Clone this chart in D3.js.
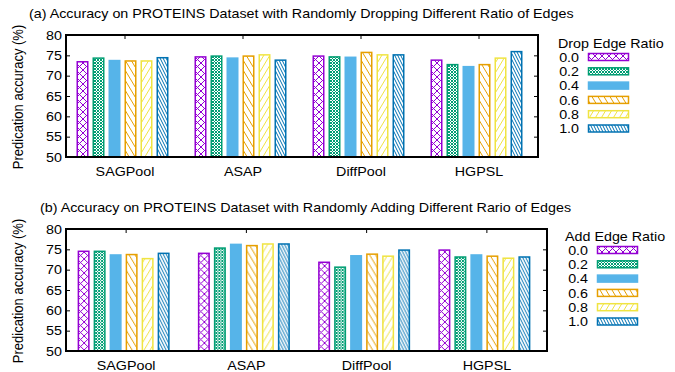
<!DOCTYPE html>
<html>
<head>
<meta charset="utf-8">
<script src="https://cdn.jsdelivr.net/npm/d3@7"></script>
<style>
  body { margin: 0; background: #fff; }
  svg text { font-family: "Liberation Sans", Arial, sans-serif; fill: #000; }
</style>
</head>
<body>
<svg id="chart" width="675" height="372"></svg>
<script>
// data
var methods = ["SAGPool", "ASAP", "DiffPool", "HGPSL"];
var ratios = ["0.0", "0.2", "0.4", "0.6", "0.8", "1.0"];
var yTicks = [50, 55, 60, 65, 70, 75, 80];

// (a) drop edges, one array per method, in ratio order
var dropSAGPool = [73.6, 74.5, 73.9, 73.8, 73.8, 74.6];
var dropASAP = [74.8, 75.0, 74.5, 75.0, 75.3, 74.0];
var dropDiffPool = [75.0, 74.8, 74.7, 75.9, 75.3, 75.3];
var dropHGPSL = [74.0, 72.9, 72.4, 72.9, 74.5, 76.1];

// (b) add edges
var addSAGPool = [74.7, 74.7, 73.8, 73.9, 72.9, 74.2];
var addASAP = [74.2, 75.5, 76.4, 76.1, 76.5, 76.5];
var addDiffPool = [72.0, 70.8, 73.6, 74.0, 73.5, 75.0];
var addHGPSL = [75.0, 73.3, 73.8, 73.5, 73.0, 73.3];

var colors = ["#9400d3", "#009e73", "#56b4e9", "#e69f00", "#f0e442", "#0072b2"];

var svg = d3.select("#chart");
var sx = 1.1;  // picture is stretched sideways a bit
var fs = 13;

// fill patterns, one per ratio
var defs = svg.append("defs");
function pattern(id, color, w, h, path, bg) {
    var p = defs.append("pattern")
        .attr("id", id)
        .attr("patternUnits", "userSpaceOnUse")
        .attr("width", w).attr("height", h);
    p.append("rect").attr("width", w).attr("height", h).attr("fill", bg || "#fff");
    if (path) {
        p.append("path").attr("d", path)
            .attr("stroke", color).attr("stroke-width", 1).attr("fill", "none");
    }
}
pattern("p0", colors[0], 7, 7, "M0,0L7,7M0,7L7,0");
pattern("p1", colors[1], 3, 3, "M0,0L3,3M0,3L3,0");
pattern("p2", colors[2], 4, 4, null, colors[2]);
pattern("p3", colors[3], 6, 10, "M-3,-5L9,15M3,-5L15,15M-9,-5L3,15");
pattern("p4", colors[4], 6, 10, "M9,-5L-3,15M3,-5L-9,15M15,-5L3,15");
pattern("p5", colors[5], 3, 6, "M-1.5,-3L4.5,9M1.5,-3L7.5,9M-4.5,-3L1.5,9");

function label(g, x, y, str, anchor) {
    return g.append("text")
        .attr("transform", "translate(" + x + "," + y + ") scale(" + sx + ",1)")
        .attr("text-anchor", anchor || "start")
        .attr("font-size", fs)
        .text(str);
}

function drawPanel(opt) {
    var g = svg.append("g");
    var x = d3.scaleBand().domain(methods).range([opt.left, opt.right]).padding(0);
    var y = d3.scaleLinear().domain([50, 80]).range([opt.bottom, opt.top]);
    var inner = d3.scaleBand().domain(ratios).range([-50.5, 45.5]).paddingInner(0.25).paddingOuter(0.125);

    label(g, opt.titleX, opt.titleY, opt.title);

    // y axis label
    g.append("text")
        .attr("transform", "translate(23," + ((opt.top + opt.bottom) / 2 + 1) + ") scale(" + sx + ",1) rotate(-90)")
        .attr("text-anchor", "middle")
        .attr("font-size", fs)
        .text("Predication accuracy (%)");

    // bars
    var groups = g.selectAll(".grp").data(opt.values).enter().append("g")
        .attr("transform", (d, i) => "translate(" + (x(methods[i]) + x.bandwidth() / 2) + ",0)");
    groups.selectAll("rect").data(d => d).enter().append("rect")
        .attr("x", (d, i) => inner(ratios[i]) + 0.75)
        .attr("y", d => y(d) + 0.75)
        .attr("width", inner.bandwidth() - 1.5)
        .attr("height", d => y(50) - y(d) - 0.75)
        .attr("fill", (d, i) => "url(#p" + i + ")")
        .attr("stroke", (d, i) => colors[i])
        .attr("stroke-width", 1.5);

    // y ticks left and right, inward
    var yl = d3.axisLeft(y).tickValues(yTicks).tickSize(-4).tickPadding(6).tickFormat(d3.format("d"));
    var ya = g.append("g").attr("transform", "translate(" + opt.left + ",0)").call(yl);
    ya.select(".domain").remove();
    ya.selectAll("text").remove();
    yTicks.forEach(function (t) {
        label(g, opt.left - 4, y(t) + 4.6, t, "end");
    });
    var yr = d3.axisRight(y).tickValues(yTicks).tickSize(-4).tickFormat("");
    g.append("g").attr("transform", "translate(" + opt.right + ",0)").call(yr).select(".domain").remove();

    // x ticks at the top only
    var xt = d3.axisTop(x).tickSize(-4).tickFormat("");
    g.append("g").attr("transform", "translate(0," + opt.top + ")").call(xt).select(".domain").remove();
    g.selectAll(".tick line").attr("stroke", "#000").attr("stroke-width", 1);

    methods.forEach(function (m) {
        label(g, x(m) + x.bandwidth() / 2, opt.bottom + opt.catDy, m, "middle");
    });

    // frame
    g.append("rect")
        .attr("x", opt.left).attr("y", opt.top)
        .attr("width", opt.right - opt.left).attr("height", opt.bottom - opt.top)
        .attr("fill", "none").attr("stroke", "#000").attr("stroke-width", 2);

    // legend
    label(g, opt.legX, opt.legY, opt.legTitle);
    ratios.forEach(function (r, i) {
        var cy = opt.legY + 9 + i * 14.3;
        label(g, opt.legTextX, cy + 4.6, r, "end");
        g.append("rect")
            .attr("x", opt.legTextX + 9.5).attr("y", cy - 3.5)
            .attr("width", 40).attr("height", 7)
            .attr("fill", "url(#p" + i + ")")
            .attr("stroke", colors[i]).attr("stroke-width", 1.5);
    });
}

drawPanel({
    title: "(a) Accuracy on PROTEINS Dataset with Randomly Dropping Different Ratio of Edges",
    titleX: 29, titleY: 18,
    left: 66, right: 538, top: 35, bottom: 157, catDy: 19,
    values: [dropSAGPool, dropASAP, dropDiffPool, dropHGPSL],
    legTitle: "Drop Edge Ratio", legX: 558, legY: 48, legTextX: 579
});

drawPanel({
    title: "(b) Accuracy on PROTEINS Dataset with Randomly Adding Different Rario of Edges",
    titleX: 40, titleY: 212,
    left: 66, right: 547, top: 229, bottom: 351, catDy: 19,
    values: [addSAGPool, addASAP, addDiffPool, addHGPSL],
    legTitle: "Add Edge Ratio", legX: 565, legY: 241, legTextX: 588
});
</script>
</body>
</html>
